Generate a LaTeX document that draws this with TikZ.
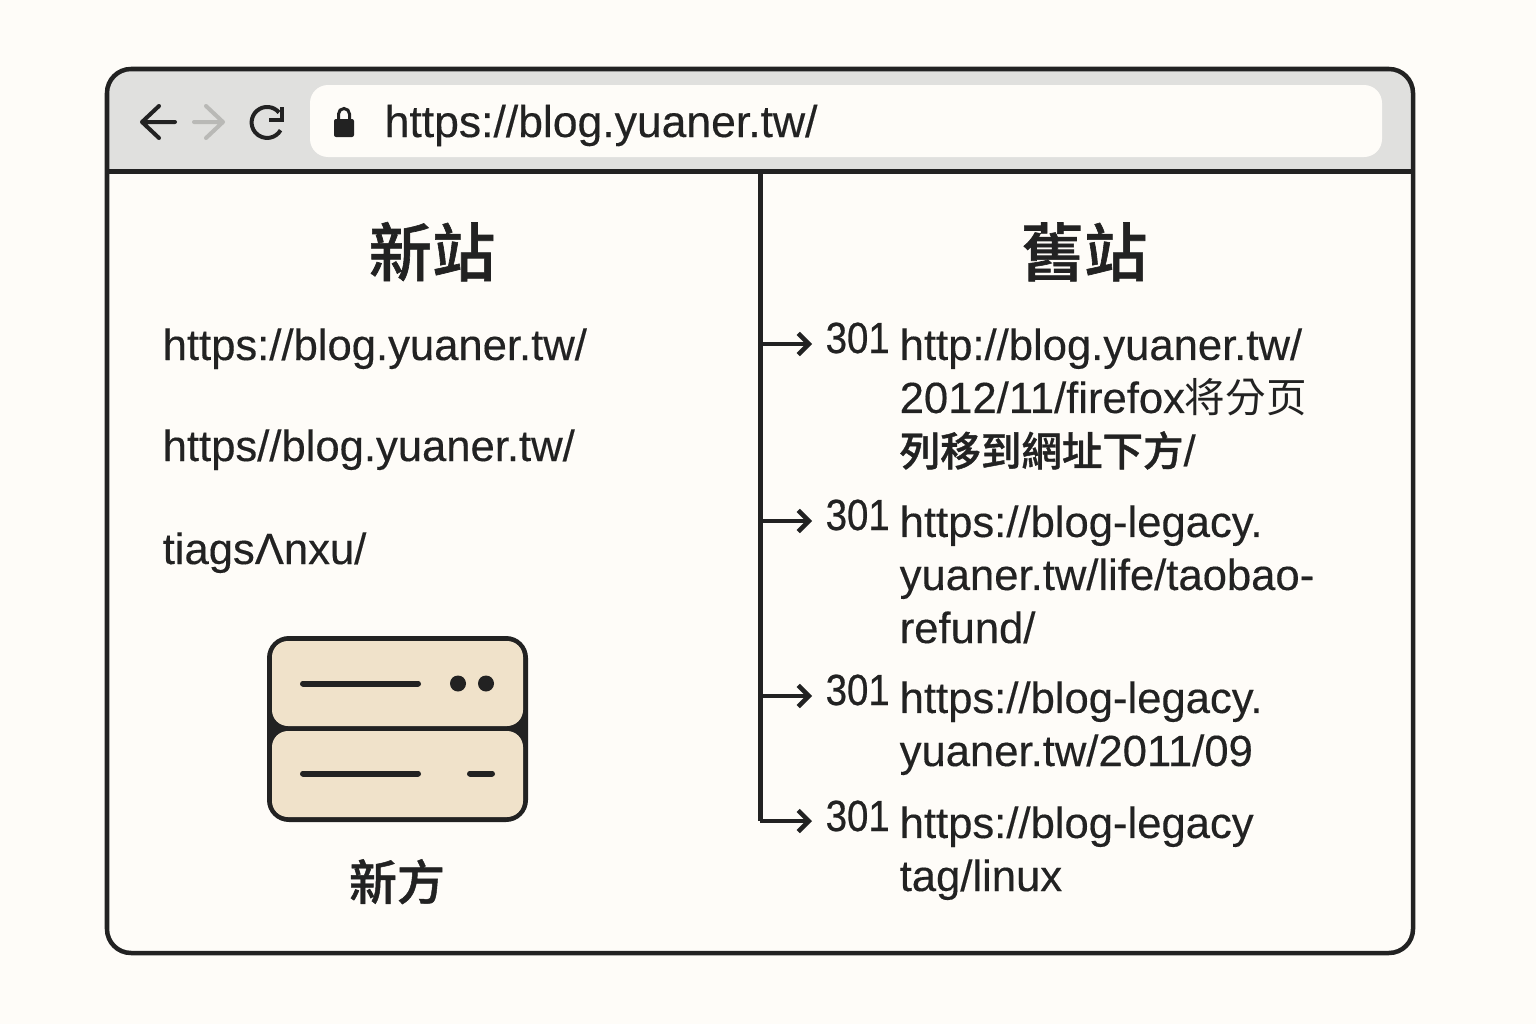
\documentclass[tikz,border=0pt]{standalone}
\usepackage{xcolor}
\usepackage{fontspec}
\setmainfont[FakeBold=0.3]{Liberation Sans}
\newfontfamily\cjk[FakeBold=1]{Noto Sans CJK TC Medium}
\newfontfamily\cjkurl[Scale=0.93]{Noto Sans CJK TC}
\newfontfamily\cjkurlmed[Scale=0.93,FakeBold=1]{Noto Sans CJK TC Medium}
\newfontfamily\codefont[FakeStretch=0.88,FakeBold=0.6]{Liberation Sans}
\usetikzlibrary{arrows.meta}

\definecolor{pagebg}{HTML}{FEFCF8}
\definecolor{ink}{HTML}{222222}
\definecolor{barbg}{HTML}{E0E0DE}
\definecolor{fwdgray}{HTML}{B9B9B6}
\definecolor{srvfill}{HTML}{F0E2CA}

\tikzset{
    urltext/.style={anchor=base west,inner sep=0pt,align=left,text=ink,font=\fontsize{12.4}{15.08}\selectfont},
    codetext/.style={anchor=base west,inner sep=0pt,text=ink,font=\codefont\fontsize{12.4}{15}\selectfont},
    headtext/.style={anchor=base,inner sep=0pt,text=ink,font=\cjk\fontsize{18}{20}\selectfont},
    flow/.style={draw=ink,line width=0.045cm,-{Straight Barb[length=3pt,width=6pt,line width=0.045cm]}},
    srvpanel/.style={fill=srvfill,rounded corners=0.16cm},
    srvline/.style={draw=ink,line width=0.06cm,line cap=round}
}

\begin{document}
\begin{tikzpicture}[x=0.01cm,y=-0.01cm]
    \useasboundingbox (0,0) rectangle (1536,1024);
    \fill[pagebg] (0,0) rectangle (1536,1024);

    % browser bar
    \fill[barbg] (107,172) [rounded corners=0.24cm] -- (107,69) -- (1413,69) [sharp corners] -- (1413,172) -- cycle;
    \fill[pagebg,rounded corners=0.18cm] (310,85) rectangle (1382,157);
    \draw[ink,line width=0.04cm,line cap=round,line join=round] (175,122) -- (142,122) (159,106) -- (142,122) -- (159,138);
    \draw[fwdgray,line width=0.04cm,line cap=round,line join=round] (194,122) -- (223,122) (206,106) -- (223,122) -- (206,138);
    \draw[ink,line width=0.04cm] (279,112.5) arc[start angle=-40,end angle=-330,radius=15.5];
    \draw[ink,line width=0.035cm,line join=miter] (282,107) -- (282,120) -- (269,120);
    \fill[ink,rounded corners=0.02cm] (334,119) rectangle (354,137);
    \draw[ink,line width=0.03cm] (338.5,120) -- (338.5,114) arc[start angle=180,end angle=360,radius=5.5] -- (349.5,120);
    \node[urltext,font=\fontsize{12.65}{15}\selectfont] (addr) at (384,137) {https://blog.yuaner.tw/};

    % window
    \draw[ink,line width=0.045cm,rounded corners=0.24cm] (107,69) rectangle (1413,953);
    \draw[ink,line width=0.05cm] (107,171) -- (1413,171);

    % left side
    \node[headtext] (newsite) at (432,276) {新站};
    \node[urltext] (newa) at (162,360) {https://blog.yuaner.tw/};
    \node[urltext] (newb) at (162,461) {https//blog.yuaner.tw/};
    \node[urltext] (newc) at (162,564) {tiagsΛnxu/};

    % server
    \fill[ink,rounded corners=0.22cm] (267,636) rectangle (528,822);
    \fill[srvpanel] (272,641) rectangle (523,726);
    \fill[srvpanel] (272,731) rectangle (523,817);
    \draw[srvline] (303,683.5) -- (418,683.5);
    \fill[ink] (458,683.5) circle (8) (486,683.5) circle (8);
    \draw[srvline] (303,773.5) -- (418,773.5);
    \draw[srvline] (470,773.5) -- (492,773.5);
    \node[anchor=base,inner sep=0pt,text=ink,font=\cjk\fontsize{13.6}{16}\selectfont] (newname) at (397,900) {新方};

    % right side
    \node[headtext] (oldsite) at (1084,276) {舊站};

    \coordinate (spinetop) at (760,172);
    \coordinate (spinea) at (760,344);
    \coordinate (spineb) at (760,521);
    \coordinate (spinec) at (760,696);
    \coordinate (spined) at (760,821);
    \coordinate (tipa) at (812,344);
    \coordinate (tipb) at (812,521);
    \coordinate (tipc) at (812,696);
    \coordinate (tipd) at (812,821);
    \draw[ink,line width=0.05cm] (spinetop) -- (spined);
    \draw[flow] (spinea) -- (tipa);
    \draw[flow] (spineb) -- (tipb);
    \draw[flow] (spinec) -- (tipc);
    \draw[flow] (spined) -- (tipd);

    \node[codetext] (codea) at (825,353) {301};
    \node[codetext] (codeb) at (825,530) {301};
    \node[codetext] (codec) at (825,705) {301};
    \node[codetext] (coded) at (825,831) {301};

    \node[urltext] (olda) at (899,466) {http://blog.yuaner.tw/\\2012/11/firefox{\cjkurl 将分页}\\{\cjkurlmed 列移到網址下方}/};
    \node[urltext] (oldb) at (899,643) {https://blog-legacy.\\yuaner.tw/life/taobao-\\refund/};
    \node[urltext] (oldc) at (899,766) {https://blog-legacy.\\yuaner.tw/2011/09};
    \node[urltext] (oldd) at (899,891) {https://blog-legacy\\tag/linux};
\end{tikzpicture}
\end{document}
